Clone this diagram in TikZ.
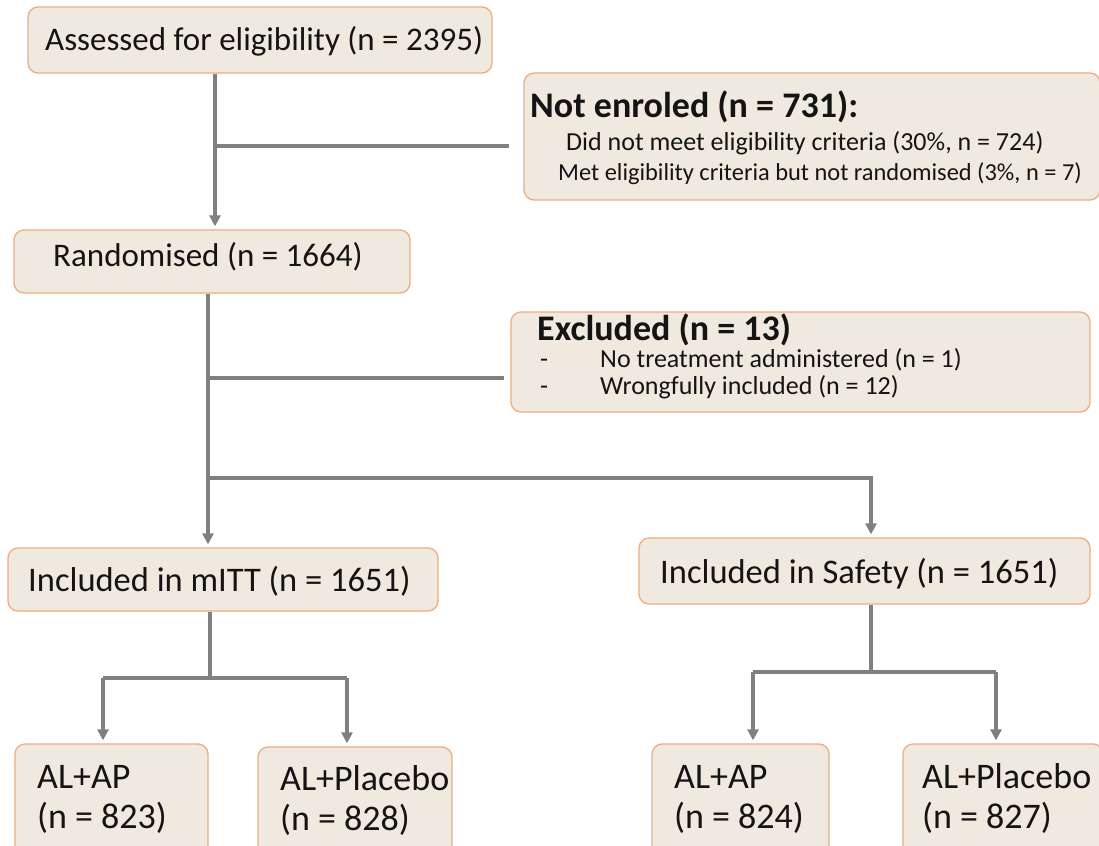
\documentclass[tikz,border=0pt]{standalone}
\usepackage{fontspec}
\setmainfont{Carlito}
\usetikzlibrary{arrows.meta,calc}
\definecolor{boxfill}{RGB}{240,233,223}
\definecolor{boxborder}{RGB}{238,172,128}
\definecolor{linegray}{RGB}{128,128,128}
\definecolor{textcol}{RGB}{20,20,20}
\tikzset{
  box/.style={draw=boxborder, fill=boxfill, line width=1.3pt, rounded corners=10pt, inner sep=0pt},
  conn/.style={draw=linegray, line width=3.2pt},
  arr/.style={conn, -{Triangle[length=11pt,width=11pt]}, shorten >=3pt},
  txt/.style={anchor=base west, inner sep=0pt, text=textcol},
  big/.style={txt, font=\fontsize{33}{40}\selectfont},
  mid/.style={txt, font=\fontsize{34.5}{40}\selectfont},
  head/.style={txt, font=\fontsize{36}{42}\selectfont\bfseries},
  small/.style={txt, font=\fontsize{26}{30}\selectfont},
  smaller/.style={txt, font=\fontsize{24.4}{30}\selectfont},
  arm/.style={txt, font=\fontsize{36}{42}\selectfont},
}
\begin{document}
\begin{tikzpicture}[x=1pt,y=-1pt]
\useasboundingbox (0,0) rectangle (1099,845);
\clip (0,0) rectangle (1099,845);
\fill[white] (0,0) rectangle (1099,845);

% boxes
\node[box, minimum width=464pt, minimum height=66pt] (assess) at (260,40) {};
\node[box, minimum width=576pt, minimum height=127pt] (notenr) at (812,136.5) {};
\node[box, minimum width=396pt, minimum height=63pt] (rand) at (212,261.5) {};
\node[box, minimum width=579pt, minimum height=100pt] (excl) at (800.5,362) {};
\node[box, minimum width=430pt, minimum height=63pt] (mitt) at (223,579.5) {};
\node[box, minimum width=451pt, minimum height=66pt] (safety) at (864.5,571) {};
\node[box, minimum width=193pt, minimum height=126pt] (b1) at (111.5,807) {};
\node[box, minimum width=194pt, minimum height=124pt] (b2) at (355,809) {};
\node[box, minimum width=177pt, minimum height=126pt] (b3) at (740.5,807) {};
\node[box, minimum width=200pt, minimum height=126pt] (b4) at (1003,807) {};

% texts
\node[big] (t1) at (45,51) {Assessed for eligibility (n = 2395)};
\node[head] (t2) at (530,118) {Not enroled (n = 731):};
\node[small] (t3) at (566,151) {Did not meet eligibility criteria (30\%, n = 724)};
\node[smaller] (t4) at (558,181) {Met eligibility criteria but not randomised (3\%, n = 7)};
\node[big] (t5) at (53,266) {Randomised (n = 1664)};
\node[head] (t6) at (537,340) {Excluded (n = 13)};
\node[small] (t7a) at (540,367) {-};
\node[small] (t7) at (600,367) {No treatment administered (n = 1)};
\node[small] (t8a) at (540,394) {-};
\node[small] (t8) at (600,394) {Wrongfully included (n = 12)};
\node[mid] (t9) at (28,591) {Included in mITT (n = 1651)};
\node[mid] (t10) at (660,583) {Included in Safety (n = 1651)};
\node[arm] (t11) at (37,788) {AL+AP};
\node[arm] (t12) at (37,828) {(n = 823)};
\node[arm] (t13) at (280,790) {AL+Placebo};
\node[arm] (t14) at (280,830) {(n = 828)};
\node[arm] (t15) at (674,788) {AL+AP};
\node[arm] (t16) at (674,828) {(n = 824)};
\node[arm] (t17) at (922,788) {AL+Placebo};
\node[arm] (t18) at (922,828) {(n = 827)};

% connector coordinates
\coordinate (x1) at (215,0);
\coordinate (j1) at (215,146);
\coordinate (x2) at (208,0);
\coordinate (j2) at (208,378);
\coordinate (j3) at (208,478);
\coordinate (j4) at (871,478);
\coordinate (m1) at (210,678);
\coordinate (ma) at (103,678);
\coordinate (mb) at (347,678);
\coordinate (s1) at (871,672);
\coordinate (sa) at (753,672);
\coordinate (sb) at (996,672);

% connectors
\draw[arr] (assess.south -| x1) -- (rand.north -| x1);
\draw[conn] (j1) -- ([xshift=-14pt]j1 -| notenr.west);
\draw[arr] (rand.south -| x2) -- (mitt.north -| x2);
\draw[conn] (j2) -- ([xshift=-6pt]j2 -| excl.west);
\draw[arr] (j3) -- (j4) -- (safety.north -| j4);
\draw[conn] (mitt.south -| m1) -- (m1);
\draw[conn] (ma) -- (mb);
\draw[arr] (ma) -- (ma |- b1.north);
\draw[arr] (mb) -- (mb |- b2.north);
\draw[conn] (safety.south -| s1) -- (s1);
\draw[conn] (sa) -- (sb);
\draw[arr] (sa) -- (sa |- b3.north);
\draw[arr] (sb) -- (sb |- b4.north);
\end{tikzpicture}
\end{document}
